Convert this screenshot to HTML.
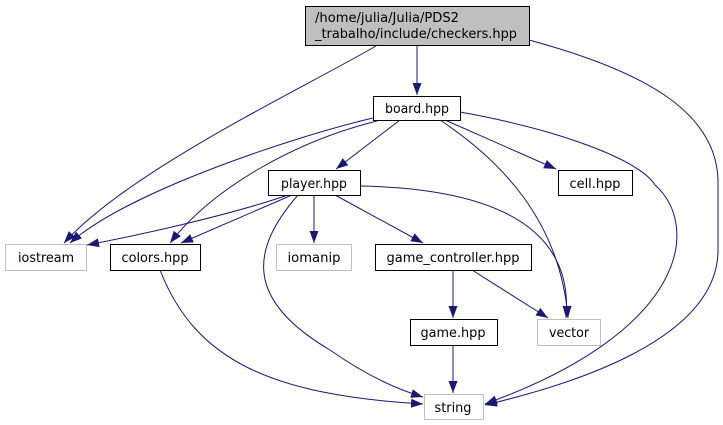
<!DOCTYPE html>
<html><head><meta charset="utf-8"><style>
html,body{margin:0;padding:0;background:#fff;width:723px;height:425px;overflow:hidden}
text{font-family:"DejaVu Sans","Liberation Sans",sans-serif;font-size:13px;fill:#000}
</style></head><body>
<svg width="723" height="425" viewBox="0 0 723 425" xmlns="http://www.w3.org/2000/svg">
<defs><marker id="a" viewBox="0 0 12 10" refX="12" refY="5" markerWidth="12" markerHeight="10" markerUnits="userSpaceOnUse" orient="auto"><path d="M0,0.5 L12,5 L0,9.5 z" fill="#191970"/></marker></defs>
<g fill="none" stroke="#191970" stroke-width="1" marker-end="url(#a)">
<path d="M417,46 L417,95"/>
<path d="M376,46 C300,90 130,170 64,243"/>
<path d="M529,40 C640,70 716,110 718,180 L718,250 C718,340 570,385 485,405"/>
<path d="M373,118 C300,135 130,190 70,243"/>
<path d="M377,121 C300,140 215,185 170,243"/>
<path d="M400,120 L336,169"/>
<path d="M445,120 L556,169"/>
<path d="M440,120 C500,160 560,220 568,318"/>
<path d="M460,112 C560,130 640,160 655,185 C700,225 690,330 485,404"/>
<path d="M288,195 C230,215 140,235 87,245"/>
<path d="M292,195 L181,243"/>
<path d="M314,195 L314,243"/>
<path d="M335,195 L423,243"/>
<path d="M298,195 C250,250 245,300 330,350 C370,378 400,390 423,397"/>
<path d="M360,186 C470,188 575,215 566,318"/>
<path d="M160,270 C195,360 270,395 423,404"/>
<path d="M453,270 L453,318"/>
<path d="M472,270 L548,318"/>
<path d="M453,345 L453,393"/>
</g>
<g stroke-width="1">
<rect x="305.5" y="6.5" width="224" height="39" fill="#bfbfbf" stroke="#000"/>
<rect x="373.5" y="96.5" width="87" height="24" fill="#fff" stroke="#000"/>
<rect x="268.5" y="170.5" width="92" height="25" fill="#fff" stroke="#000"/>
<rect x="558.5" y="170.5" width="74" height="25" fill="#fff" stroke="#000"/>
<rect x="5.5" y="244.5" width="81" height="26" fill="#fff" stroke="#bfbfbf"/>
<rect x="110.5" y="244.5" width="90" height="26" fill="#fff" stroke="#000"/>
<rect x="276.5" y="244.5" width="75" height="26" fill="#fff" stroke="#bfbfbf"/>
<rect x="375.5" y="244.5" width="156" height="26" fill="#fff" stroke="#000"/>
<rect x="410.5" y="319.5" width="87" height="26" fill="#fff" stroke="#000"/>
<rect x="537.5" y="319.5" width="63" height="26" fill="#fff" stroke="#bfbfbf"/>
<rect x="424.5" y="394.5" width="59" height="25" fill="#fff" stroke="#bfbfbf"/>
</g>
<text x="315" y="22" textLength="144" lengthAdjust="spacingAndGlyphs">/home/julia/Julia/PDS2</text>
<text x="315" y="38" textLength="202" lengthAdjust="spacingAndGlyphs">_trabalho/include/checkers.hpp</text>
<g text-anchor="middle" lengthAdjust="spacingAndGlyphs">
<text x="417" y="113" textLength="64" lengthAdjust="spacingAndGlyphs">board.hpp</text>
<text x="314" y="188" textLength="66" lengthAdjust="spacingAndGlyphs">player.hpp</text>
<text x="595" y="188" textLength="51" lengthAdjust="spacingAndGlyphs">cell.hpp</text>
<text x="46" y="262" textLength="56" lengthAdjust="spacingAndGlyphs">iostream</text>
<text x="155" y="262" textLength="67" lengthAdjust="spacingAndGlyphs">colors.hpp</text>
<text x="314" y="262" textLength="53" lengthAdjust="spacingAndGlyphs">iomanip</text>
<text x="453" y="262" textLength="133" lengthAdjust="spacingAndGlyphs">game_controller.hpp</text>
<text x="453" y="337" textLength="65" lengthAdjust="spacingAndGlyphs">game.hpp</text>
<text x="569" y="337" textLength="40" lengthAdjust="spacingAndGlyphs">vector</text>
<text x="453" y="412" textLength="37" lengthAdjust="spacingAndGlyphs">string</text>
</g>
</svg>
</body></html>
